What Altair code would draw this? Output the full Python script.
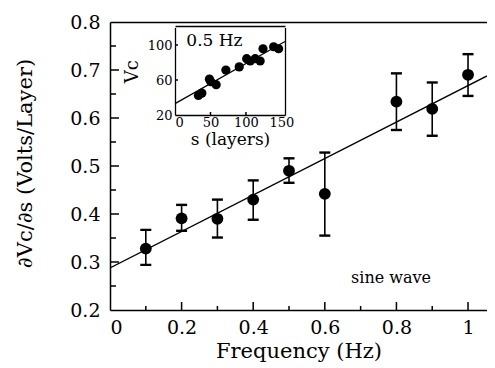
import altair as alt
import pandas as pd

# ---------------- data ----------------
freq = [0.1, 0.2, 0.3, 0.4, 0.5, 0.6, 0.8, 0.9, 1.0]
slope_val = [0.328, 0.391, 0.390, 0.430, 0.490, 0.442, 0.634, 0.619, 0.690]
err_lo = [0.294, 0.365, 0.351, 0.388, 0.465, 0.355, 0.575, 0.563, 0.646]
err_hi = [0.367, 0.419, 0.430, 0.470, 0.516, 0.528, 0.693, 0.674, 0.733]
fit_intercept = 0.2875
fit_slope = 0.38
fit_x = [0.0, 1.053]

inset_s = [33, 37.8, 48.5, 50.5, 58, 71.7, 90.5, 101, 106, 113, 120, 124, 139, 146]
inset_v = [42.3, 45, 61, 58, 54.7, 71.3, 75, 84.4, 81.7, 84.4, 81.7, 95.7, 98, 95.7]
inset_intercept = 33.0
inset_slope = 0.458
inset_fit_s = [0, 155]

x_labels = [0, 0.2, 0.4, 0.6, 0.8, 1.0]
x_major = [0.2, 0.4, 0.6, 0.8, 1.0]
x_minor = [0.1, 0.3, 0.5, 0.7, 0.9]
y_labels = [0.2, 0.3, 0.4, 0.5, 0.6, 0.7, 0.8]
y_major = [0.3, 0.4, 0.5, 0.6, 0.7]
y_minor = [0.25, 0.35, 0.45, 0.55, 0.65, 0.75]
inset_x_labels = [0, 50, 100, 150]
inset_x_ticks = [50, 100]
inset_y_labels = [20, 60, 100]
inset_y_ticks = [60, 100]

FONT = "DejaVu Serif"
W, H = 377, 288
IN_LEFT, IN_RIGHT, IN_TOP, IN_BOTTOM = 65, 175, 4, 93

main_df = pd.DataFrame({"freq": freq, "val": slope_val, "lo": err_lo, "hi": err_hi})
fit_df = pd.DataFrame({"x": fit_x, "y": [fit_intercept + fit_slope * v for v in fit_x]})
note_df = pd.DataFrame({"x": [0.785], "y": [0.267], "t": ["sine wave"]})
inset_df = pd.DataFrame({"s": inset_s, "v": inset_v})
inset_fit_df = pd.DataFrame({"s": inset_fit_s, "v": [inset_intercept + inset_slope * s for s in inset_fit_s]})
inset_note_df = pd.DataFrame({"s": [16], "v": [104.5], "t": ["0.5 Hz"]})


def xs():
    return alt.Scale(domain=[0, 1.053], nice=False, zero=False)


def ys():
    return alt.Scale(domain=[0.2, 0.8], nice=False, zero=False)


def ixs():
    return alt.Scale(domain=[0, 155], range=[IN_LEFT, IN_RIGHT], nice=False, zero=False)


def iys():
    return alt.Scale(domain=[20, 120], range=[IN_BOTTOM, IN_TOP + 1.5], nice=False, zero=False)


def line_axis(orient, offset):
    return alt.Axis(orient=orient, labels=False, ticks=False, domain=True, title=None,
                    grid=False, offset=offset, domainColor="black", domainWidth=1.3)


TICK_COLOR = "black"


def xticks(values, scale, y0, length):
    df = pd.DataFrame({"v": values})
    return alt.Chart(df).mark_rule(color=TICK_COLOR, strokeWidth=1.5).encode(
        x=alt.X("v:Q", scale=scale, axis=None),
        y=alt.value(y0), y2=alt.value(y0 - length),
    )


def yticks(values, scale, x0, length):
    df = pd.DataFrame({"v": values})
    return alt.Chart(df).mark_rule(color=TICK_COLOR, strokeWidth=1.5).encode(
        y=alt.Y("v:Q", scale=scale, axis=None),
        x=alt.value(x0), x2=alt.value(x0 + length),
    )


x_lab_axis = alt.Axis(orient="bottom", values=x_labels, format="~g", ticks=False, grid=False,
                      domain=True, domainColor="black", domainWidth=1.5,
                      labelFont=FONT, labelFontSize=19, labelPadding=8, labelColor="black",
                      title="Frequency (Hz)", titleFont=FONT, titleFontSize=21,
                      titleFontWeight="normal", titlePadding=3, titleColor="black")
y_lab_axis = alt.Axis(orient="left", values=y_labels, format=".1f", ticks=False, grid=False,
                      domain=True, domainColor="black", domainWidth=1.5,
                      labelFont=FONT, labelFontSize=19, labelPadding=10, labelColor="black",
                      labelBaseline="middle",
                      title="∂Vc/∂s  (Volts/Layer)", titleFont=FONT, titleFontSize=21,
                      titleFontWeight="normal", titleColor="black",
                      titleX=-85, titleY=141, titleAngle=270, titleAlign="center",
                      titleBaseline="middle")

points = alt.Chart(main_df).mark_circle(size=140, color="black", opacity=1).encode(
    x=alt.X("freq:Q", scale=xs(), axis=x_lab_axis),
    y=alt.Y("val:Q", scale=ys(), axis=y_lab_axis),
)
bars = alt.Chart(main_df).mark_rule(color="black", strokeWidth=1.6).encode(
    x=alt.X("freq:Q", scale=xs(), axis=None),
    y=alt.Y("lo:Q", scale=ys(), axis=None),
    y2="hi:Q",
)
caps_lo = alt.Chart(main_df).mark_tick(orient="horizontal", size=11, thickness=2.4, color="black", opacity=1).encode(
    x=alt.X("freq:Q", scale=xs(), axis=None),
    y=alt.Y("lo:Q", scale=ys(), axis=None),
)
caps_hi = alt.Chart(main_df).mark_tick(orient="horizontal", size=11, thickness=2.4, color="black", opacity=1).encode(
    x=alt.X("freq:Q", scale=xs(), axis=None),
    y=alt.Y("hi:Q", scale=ys(), axis=None),
)
fit = alt.Chart(fit_df).mark_line(color="black", strokeWidth=1.3, clip=True).encode(
    x=alt.X("x:Q", scale=xs(), axis=line_axis("top", 0)),
    y=alt.Y("y:Q", scale=ys(), axis=None),
)
note = alt.Chart(note_df).mark_text(font=FONT, fontSize=16, color="black", align="center",
                                    baseline="middle").encode(
    x=alt.X("x:Q", scale=xs(), axis=None),
    y=alt.Y("y:Q", scale=ys(), axis=None),
    text="t:N",
)

main = alt.layer(
    fit, bars, caps_lo, caps_hi, points, note,
    xticks(x_major, xs(), H, 8), xticks(x_minor, xs(), H, 4),
    yticks(y_major, ys(), 0, 9), yticks(y_minor, ys(), 0, 6),
).resolve_axis(x="independent", y="independent")

# ---------------- inset ----------------
inset_x_axis = alt.Axis(orient="bottom", offset=-(H - IN_BOTTOM), values=inset_x_labels, grid=False,
                        domain=True, domainColor="black", domainWidth=1.3, ticks=False,
                        labelFont=FONT, labelFontSize=13, labelPadding=1, labelColor="black",
                        title="s (layers)", titleFont=FONT, titleFontSize=17,
                        titleFontWeight="normal", titlePadding=2, titleColor="black")
inset_y_axis = alt.Axis(orient="left", offset=-IN_LEFT, values=inset_y_labels, grid=False,
                        domain=True, domainColor="black", domainWidth=1.3, ticks=False,
                        labelFont=FONT, labelFontSize=13, labelPadding=3, labelColor="black",
                        title="Vc", titleFont=FONT, titleFontSize=18,
                        titleFontWeight="normal", titlePadding=6, titleColor="black")

ipoints = alt.Chart(inset_df).mark_circle(size=85, color="black", opacity=1).encode(
    x=alt.X("s:Q", scale=ixs(), axis=inset_x_axis),
    y=alt.Y("v:Q", scale=iys(), axis=inset_y_axis),
)
iline = alt.Chart(inset_fit_df).mark_line(color="black", strokeWidth=1.2).encode(
    x=alt.X("s:Q", scale=ixs(), axis=line_axis("top", -IN_TOP)),
    y=alt.Y("v:Q", scale=iys(), axis=line_axis("right", -(W - IN_RIGHT))),
)
inote = alt.Chart(inset_note_df).mark_text(font=FONT, fontSize=17, color="black", align="left",
                                           baseline="middle").encode(
    x=alt.X("s:Q", scale=ixs(), axis=None),
    y=alt.Y("v:Q", scale=iys(), axis=None),
    text="t:N",
)
inset = alt.layer(
    iline, ipoints, inote,
    xticks(inset_x_ticks, ixs(), IN_BOTTOM, 3),
    yticks(inset_y_ticks, iys(), IN_LEFT, 3),
).resolve_axis(x="independent", y="independent")

chart = alt.layer(main, inset).resolve_scale(x="independent", y="independent").properties(
    width=W, height=H,
    padding={"left": 102, "top": 14, "right": 0, "bottom": 58},
    autosize=alt.AutoSizeParams(type="none"),
    background="white",
).configure_view(stroke=None)

chart.save("out.html", embed_options={"renderer": "svg", "actions": False})
